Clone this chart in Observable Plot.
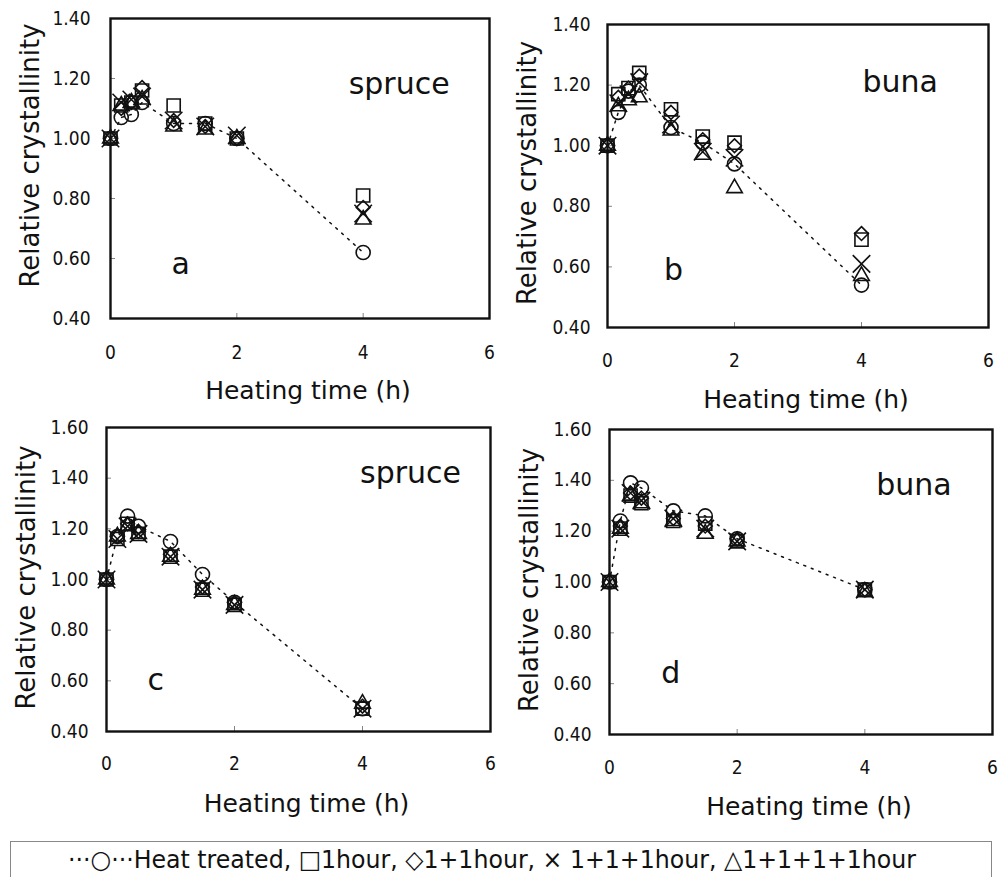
<!DOCTYPE html>
<html><head><meta charset="utf-8">
<script src="https://cdn.jsdelivr.net/npm/d3@7"></script>
<script src="https://cdn.jsdelivr.net/npm/@observablehq/plot@0.6"></script>
<style>
html,body{margin:0;padding:0;background:#fff;}
#chart{position:relative;width:1003px;height:877px;overflow:hidden;background:#fff;}
.panel{position:absolute;}
.panel svg{overflow:visible;}
#legend{position:absolute;left:10px;top:841px;width:982px;height:60px;border:1.5px solid #888;box-sizing:border-box;}
</style></head><body><div id="chart"></div>
<script>
// ---------- data ----------
const heatingTime = [0, 0.17, 0.33, 0.5, 1, 1.5, 2, 4];
const seriesNames = ["Heat treated", "1hour", "1+1hour", "1+1+1hour", "1+1+1+1hour"];
const seriesSymbols = ["circle", "square", "diamond2", "times", "triangle"];
const legendGlyphs = ["○", "□", "◇", "× ", "△"];
const panelSpecies = ["spruce", "buna", "spruce", "buna"];
const panelLetters = ["a", "b", "c", "d"];
const xTicks = [0, 2, 4, 6];
const yTicksTop = [0.4, 0.6, 0.8, 1.0, 1.2, 1.4];
const yTicksBottom = [0.4, 0.6, 0.8, 1.0, 1.2, 1.4, 1.6];
const xLabel = "Heating time (h)";
const yLabel = "Relative crystallinity";

// panel a (spruce)
const aHeatTreated = [1.00, 1.07, 1.08, 1.12, 1.05, 1.05, 1.00, 0.62];
const a1hour       = [1.00, 1.11, 1.12, 1.16, 1.11, 1.05, 1.00, 0.81];
const a2hour       = [1.00, 1.10, 1.12, 1.17, 1.06, 1.04, 1.00, 0.77];
const a3hour       = [1.00, 1.12, 1.13, 1.14, 1.06, 1.04, 1.01, 0.75];
const a4hour       = [1.00, 1.11, 1.12, 1.13, 1.04, 1.03, 1.00, 0.73];
// panel b (buna)
const bHeatTreated = [1.00, 1.11, 1.18, 1.20, 1.06, 1.01, 0.94, 0.54];
const b1hour       = [1.00, 1.17, 1.19, 1.24, 1.12, 1.03, 1.01, 0.69];
const b2hour       = [1.00, 1.16, 1.19, 1.23, 1.11, 1.02, 1.00, 0.71];
const b3hour       = [1.00, 1.14, 1.17, 1.21, 1.07, 0.98, 0.96, 0.61];
const b4hour       = [1.00, 1.13, 1.15, 1.16, 1.05, 0.97, 0.86, 0.57];
// panel c (spruce)
const cHeatTreated = [1.00, 1.17, 1.25, 1.21, 1.15, 1.02, 0.91, 0.49];
const c1hour       = [1.00, 1.16, 1.22, 1.18, 1.09, 0.96, 0.90, 0.49];
const c2hour       = [1.00, 1.17, 1.22, 1.19, 1.10, 0.97, 0.91, 0.50];
const c3hour       = [1.00, 1.16, 1.21, 1.18, 1.09, 0.96, 0.90, 0.49];
const c4hour       = [1.00, 1.17, 1.21, 1.18, 1.09, 0.96, 0.90, 0.51];
// panel d (buna)
const dHeatTreated = [1.00, 1.24, 1.39, 1.37, 1.28, 1.26, 1.17, 0.97];
const d1hour       = [1.00, 1.21, 1.34, 1.31, 1.24, 1.23, 1.16, 0.97];
const d2hour       = [1.00, 1.22, 1.35, 1.33, 1.25, 1.22, 1.17, 0.97];
const d3hour       = [1.00, 1.21, 1.35, 1.32, 1.25, 1.21, 1.16, 0.97];
const d4hour       = [1.00, 1.21, 1.34, 1.31, 1.24, 1.19, 1.16, 0.96];

const panelSeries = [
  [aHeatTreated, a1hour, a2hour, a3hour, a4hour],
  [bHeatTreated, b1hour, b2hour, b3hour, b4hour],
  [cHeatTreated, c1hour, c2hour, c3hour, c4hour],
  [dHeatTreated, d1hour, d2hour, d3hour, d4hour]
];
const panelYTicks = [yTicksTop, yTicksTop, yTicksBottom, yTicksBottom];

// ---------- layout ----------
const layouts = [
  {left: 0,   top: 0,   width: 500, height: 420, mt: 18, mr: 11, mb: 102, ml: 110, xPad: 27, yPad: 20, yLabDy: -13, sp: [4.57, 1.18], let: [1.11, 0.58]},
  {left: 500, top: 0,   width: 503, height: 420, mt: 24, mr: 15, mb: 93,  ml: 107, xPad: 26, yPad: 17, yLabDy: -3,  sp: [4.61, 1.21], let: [1.04, 0.59]},
  {left: 0,   top: 420, width: 500, height: 400, mt: 7,  mr: 10, mb: 89,  ml: 106, xPad: 25, yPad: 18, yLabDy: -2,  sp: [4.75, 1.42], let: [0.77, 0.60]},
  {left: 500, top: 420, width: 503, height: 400, mt: 9,  mr: 11, mb: 86,  ml: 109, xPad: 26, yPad: 18, yLabDy: -2,  sp: [4.77, 1.38], let: [0.96, 0.64]}
];
const symbolSize = {circle: 7, square: 7.4, diamond2: 6.2, times: 8, triangle: 5.8};
const ink = "#111";
const tickFont = "'DejaVu Sans Condensed', 'DejaVu Sans', sans-serif";
const textFont = "'DejaVu Sans', Verdana, sans-serif";

const chart = document.getElementById("chart");

layouts.forEach((L, p) => {
  const rows = [];
  panelSeries[p].forEach((vals, s) => {
    vals.forEach((v, i) => rows.push({t: heatingTime[i], v, series: seriesNames[s]}));
  });
  const yTicks = panelYTicks[p];
  const marks = [
    Plot.axisX({ticks: xTicks, tickSize: 0, tickPadding: L.xPad, tickFormat: d3.format("d"), label: null, fontSize: 19, fontFamily: tickFont, fill: ink}),
    Plot.axisX({ticks: xTicks, tickSize: 5, dy: -5, tickFormat: () => "", label: null, stroke: "#666", strokeWidth: 0.8}),
    Plot.axisY({ticks: yTicks, tickSize: 0, tickPadding: L.yPad, tickFormat: d3.format(".2f"), label: null, fontSize: 19, fontFamily: tickFont, fill: ink}),
    Plot.axisY({ticks: yTicks, tickSize: 5, dx: 5, tickFormat: () => "", label: null, stroke: "#666", strokeWidth: 0.8}),
    Plot.line(rows.filter(d => d.series === seriesNames[0]), {x: "t", y: "v", stroke: ink, strokeWidth: 1.5, strokeDasharray: "2,6"}),
    ...seriesNames.map((name, s) => Plot.dot(rows.filter(d => d.series === name), {
      x: "t", y: "v", symbol: seriesSymbols[s], r: symbolSize[seriesSymbols[s]],
      stroke: ink, fill: "none", strokeWidth: 1.6
    })),
    Plot.text([{label: panelSpecies[p], x: L.sp[0], y: L.sp[1]}], {x: "x", y: "y", text: "label", fontSize: 30, fontFamily: textFont, fill: ink}),
    Plot.text([{label: panelLetters[p], x: L.let[0], y: L.let[1]}], {x: "x", y: "y", text: "label", fontSize: 30, fontFamily: textFont, fill: ink}),
    Plot.text([yLabel], {frameAnchor: "left", rotate: -90, dx: -80, dy: L.yLabDy, textAnchor: "middle", lineAnchor: "middle", fontSize: 26, fontFamily: textFont, fill: ink}),
    Plot.text([xLabel], {frameAnchor: "bottom", dy: 72, dx: 8, textAnchor: "middle", lineAnchor: "middle", fontSize: 25, fontFamily: textFont, fill: ink}),
    Plot.frame({stroke: ink, strokeWidth: 2.4})
  ];
  const svg = Plot.plot({
    width: L.width, height: L.height,
    marginTop: L.mt, marginRight: L.mr, marginBottom: L.mb, marginLeft: L.ml,
    x: {domain: [0, 6]},
    y: {domain: [yTicks[0], yTicks[yTicks.length - 1]]},
    style: {background: "transparent", overflow: "visible"},
    marks
  });
  const div = document.createElement("div");
  div.className = "panel";
  div.style.left = L.left + "px";
  div.style.top = L.top + "px";
  div.appendChild(svg);
  chart.appendChild(div);
});

// ---------- legend ----------
const legend = document.createElement("div");
legend.id = "legend";
chart.appendChild(legend);
const legendText = "···" + legendGlyphs[0] + "···" + seriesNames[0] + ", " +
  seriesNames.slice(1).map((n, i) => legendGlyphs[i + 1] + n).join(", ");
const lsvg = d3.select(legend).append("svg").attr("width", 980).attr("height", 40);
lsvg.append("text")
  .attr("x", 57).attr("y", 26)
  .attr("textLength", 848).attr("lengthAdjust", "spacingAndGlyphs")
  .attr("font-family", "'Liberation Sans Narrow', 'DejaVu Sans Condensed', sans-serif")
  .attr("font-size", 25).attr("fill", ink)
  .text(legendText);
</script></body></html>
